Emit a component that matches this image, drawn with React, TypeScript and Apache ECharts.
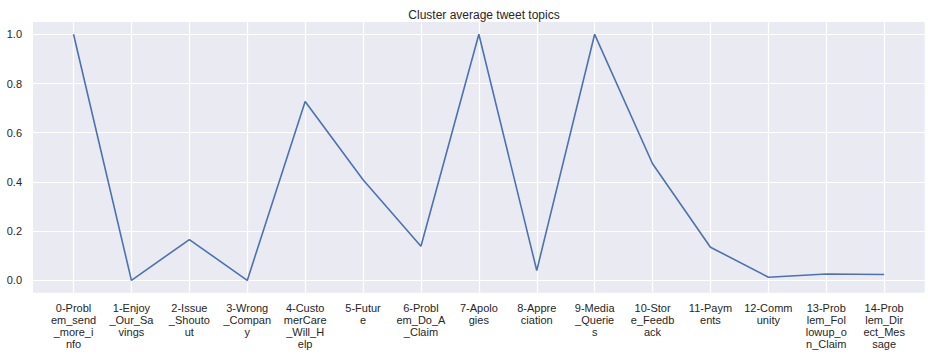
import React, { useEffect, useRef } from "react";
import * as echarts from "echarts";

const categories: string[] = [
  "0-Problem_send_more_info",
  "1-Enjoy_Our_Savings",
  "2-Issue_Shoutout",
  "3-Wrong_Company",
  "4-CustomerCare_Will_Help",
  "5-Future",
  "6-Problem_Do_A_Claim",
  "7-Apologies",
  "8-Appreciation",
  "9-Media_Queries",
  "10-Store_Feedback",
  "11-Payments",
  "12-Community",
  "13-Problem_Followup_on_Claim",
  "14-Problem_Direct_Message",
];

const values: number[] = [
  1.0, 0.0, 0.166, 0.0, 0.727, 0.409, 0.139, 1.0, 0.04, 1.0, 0.474, 0.135, 0.013, 0.026, 0.024,
];

const yTicks: number[] = [0, 0.2, 0.4, 0.6, 0.8, 1.0];

const title = "Cluster average tweet topics";

function wrap(s: string, n: number): string {
  const parts: string[] = [];
  for (let i = 0; i < s.length; i += n) parts.push(s.slice(i, i + n));
  return parts.join("\n");
}

export default function App() {
  const ref = useRef<HTMLDivElement>(null);
  useEffect(() => {
    if (!ref.current) return;
    const chart = echarts.init(ref.current, undefined, { renderer: "svg" });
    const font = "'Liberation Sans', Arial, sans-serif";
    const xIdx = categories.map((_, i) => i);
    chart.setOption({
      animation: false,
      backgroundColor: "#ffffff",
      title: {
        text: title,
        left: 479,
        textAlign: "center",
        top: 4,
        textStyle: { fontFamily: font, fontSize: 12, fontWeight: "normal", color: "#262626" },
      },
      grid: {
        left: 33,
        right: 13.3,
        top: 22,
        bottom: 61.3,
        show: true,
        backgroundColor: "#EAEAF2",
        borderWidth: 0,
      },
      xAxis: {
        type: "value",
        min: -0.7,
        max: 14.7,
        axisLine: { show: false },
        axisTick: { show: false, customValues: xIdx },
        splitLine: { show: true, lineStyle: { color: "#ffffff", width: 1.2 } },
        axisLabel: {
          customValues: xIdx,
          margin: 9,
          fontFamily: font,
          fontSize: 11,
          lineHeight: 12,
          color: "#262626",
          verticalAlign: "top",
          formatter: (v: number) => wrap(categories[Math.round(v)] ?? "", 7),
        },
      },
      yAxis: {
        type: "value",
        min: -0.05,
        max: 1.05,
        axisLine: { show: false },
        axisTick: { show: false, customValues: yTicks },
        splitLine: { show: true, lineStyle: { color: "#ffffff", width: 1.2 } },
        axisLabel: {
          customValues: yTicks,
          margin: 11,
          fontFamily: font,
          fontSize: 11,
          color: "#262626",
          formatter: (v: number) => v.toFixed(1),
        },
      },
      series: [
        {
          type: "line",
          data: values.map((v, i) => [i, v]),
          symbol: "none",
          lineStyle: { color: "#4C72B0", width: 1.6 },
          itemStyle: { color: "#4C72B0" },
        },
      ],
    });
    return () => chart.dispose();
  }, []);
  return (
    <div
      ref={ref}
      style={{ position: "fixed", left: 0, top: 0, width: 938, height: 354 }}
    />
  );
}
